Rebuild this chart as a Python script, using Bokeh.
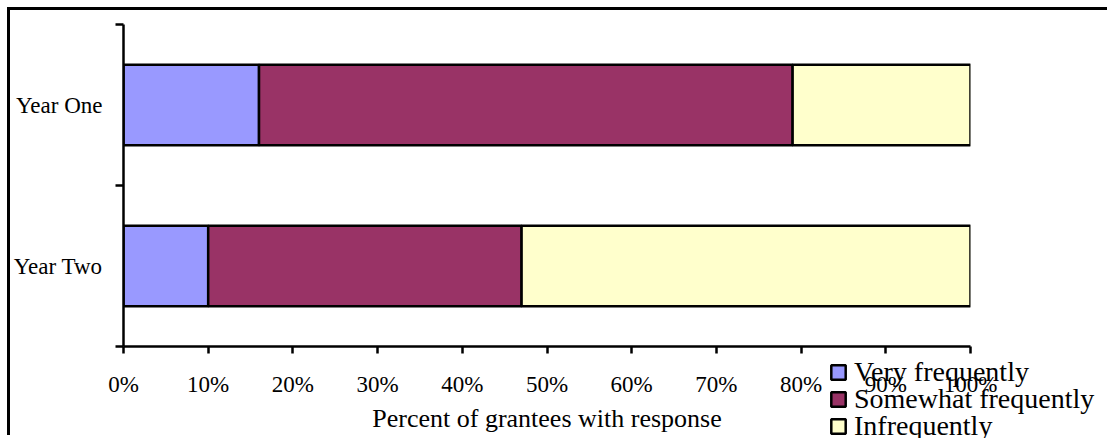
from bokeh.plotting import figure
from bokeh.models import (ColumnDataSource, FixedTicker, CustomJSTickFormatter,
                          PrintfTickFormatter, Legend, LegendItem, Range1d)
from bokeh.embed import file_html
from bokeh.resources import INLINE

# Survey responses, percent of grantees
years = ["Year One", "Year Two"]
very_frequently = [16, 10]
somewhat_frequently = [63, 37]
infrequently = [21, 53]
series = ["Very frequently", "Somewhat frequently", "Infrequently"]
colors = ["#9999FF", "#993366", "#FFFFCC"]
x_ticks = list(range(0, 101, 10))

FONT = "Liberation Serif"
FIELDS = ["very", "somewhat", "infreq"]

n = len(years)
ypos = [n - i - 0.5 for i in range(n)]          # first category on top
src = ColumnDataSource(dict(y=ypos, very=very_frequently,
                            somewhat=somewhat_frequently, infreq=infrequently))

p = figure(width=1100, height=428, output_backend="svg", toolbar_location=None,
           x_range=Range1d(0, 100), y_range=Range1d(0, n),
           min_border_left=112, min_border_right=140,
           min_border_top=14, min_border_bottom=92,
           margin=(7, 0, 0, 7),
           styles={"border-left": "3px solid black", "border-top": "3px solid black"})
p.outline_line_color = None
p.grid.visible = False
p.background_fill_color = "white"
p.border_fill_color = "white"

p.hbar_stack(FIELDS, y="y", height=0.5, source=src,
             fill_color=colors, line_color="black", line_width=2.5)

# x axis
xa = p.xaxis[0]
xa.ticker = FixedTicker(ticks=x_ticks, minor_ticks=[])
xa.formatter = PrintfTickFormatter(format="%d%%")
xa.axis_label = "Percent of grantees with response"
xa.axis_label_text_font = FONT
xa.axis_label_text_font_style = "normal"
xa.axis_label_text_font_size = "26px"
xa.axis_label_text_color = "black"
xa.axis_label_standoff = 4
xa.major_label_text_font = FONT
xa.major_label_text_font_size = "23px"
xa.major_label_text_color = "black"
xa.major_label_standoff = 18
xa.major_tick_in = 0
xa.major_tick_out = 7
xa.major_tick_line_width = 2.5
xa.major_tick_line_color = "black"
xa.axis_line_width = 2.5
xa.axis_line_color = "black"

# y axis: labels at category centres, tick marks at category boundaries
ya = p.yaxis[0]
ya.ticker = FixedTicker(ticks=ypos, minor_ticks=list(range(n + 1)))
ya.formatter = CustomJSTickFormatter(args=dict(labels=years, n=n),
                                     code="return labels[n - 1 - Math.floor(tick)];")
ya.major_label_text_font = FONT
ya.major_label_text_font_size = "23px"
ya.major_label_text_color = "black"
ya.major_label_standoff = 13
ya.major_tick_line_color = None
ya.major_tick_in = 0
ya.major_tick_out = 0
ya.minor_tick_in = 0
ya.minor_tick_out = 8
ya.minor_tick_line_width = 2.5
ya.minor_tick_line_color = "black"
ya.axis_line_width = 2.5
ya.axis_line_color = "black"

# Legend panel, laid over the lower right corner of the chart
LEG_TOP = 354
LEG_H = 438 - LEG_TOP
lg = figure(width=281, height=LEG_H, output_backend="svg", toolbar_location=None,
            x_axis_type=None, y_axis_type=None,
            min_border=0, min_border_left=0, min_border_right=0,
            min_border_top=0, min_border_bottom=0,
            styles={"position": "absolute", "left": "829px", "top": f"{LEG_TOP}px"})
lg.outline_line_color = None
lg.grid.visible = False
lg.background_fill_alpha = 0
lg.border_fill_alpha = 0

# hidden copies of the stacked series, used only for the legend swatches
swatches = lg.hbar_stack(FIELDS, y="y", height=0.5, source=src,
                         fill_color=colors, line_color="black", line_width=2.5)
for r in swatches:
    r.visible = False

row_pitch = 27
row_h = 32
first_centre = 371.5 - LEG_TOP
for i, (name, r) in enumerate(zip(series, swatches)):
    centre = first_centre + i * row_pitch
    leg = Legend(items=[LegendItem(label=name, renderers=[r])],
                 location=(0, LEG_H - centre - row_h / 2),
                 label_text_font=FONT, label_text_font_size="28px",
                 label_text_color="black", label_height=row_h,
                 glyph_width=18, glyph_height=18, label_standoff=7, spacing=0,
                 padding=0, margin=0, border_line_color=None,
                 background_fill_alpha=0, inactive_fill_alpha=0)
    lg.add_layout(leg)

open("out.html", "w").write(file_html([p, lg], INLINE))
